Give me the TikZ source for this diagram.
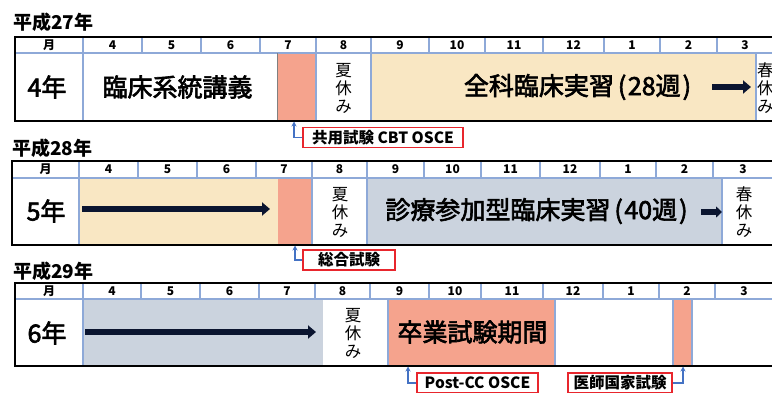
\documentclass[tikz,border=0pt]{standalone}
\usepackage{fontspec}
\setmainfont{Noto Sans CJK JP}
\newfontfamily\medfont[FakeBold=2.5]{Noto Sans CJK JP}
\usetikzlibrary{arrows.meta}
\definecolor{salmon}{HTML}{F5A38D}
\definecolor{beige}{HTML}{F9E7C3}
\definecolor{slate}{HTML}{CBD3DE}
\definecolor{gridblue}{HTML}{8EA9D8}
\definecolor{boxred}{HTML}{E8262D}
\definecolor{arrowblue}{HTML}{4472C4}
\definecolor{navy}{HTML}{0B1530}
\newcommand\lp{\hspace{4pt}(\hspace{1.5pt}}
\newcommand\rp{\hspace{2pt})\hspace{3pt}}
\tikzset{
  frame/.style={draw=black,line width=1.8pt},
  gridline/.style={draw=gridblue,line width=1.3pt},
  month/.style={font=\fontsize{12}{12}\selectfont\bfseries,inner sep=0pt},
  yeartitle/.style={font=\fontsize{19}{19}\selectfont\bfseries,inner sep=0pt,anchor=west},
  biglabel/.style={font=\fontsize{25}{25}\selectfont\medfont,inner sep=0pt},
  vlabel/.style={font=\fontsize{16.5}{18}\selectfont,inner sep=0pt,align=center},
  callout/.style={draw=boxred,line width=1.3pt,fill=white,font=\fontsize{15.5}{16}\selectfont\bfseries,inner sep=0pt,minimum height=20pt},
  leader/.style={draw=arrowblue,line width=1.3pt,-{Stealth[length=5pt,width=5pt]}},
  fatarrow/.style={draw=navy,line width=5.5pt,-{Triangle[length=8pt,width=13pt]}},
}
\begin{document}
\begin{tikzpicture}[x=1pt,y=-1pt]
\useasboundingbox (0,0) rectangle (772,392);
\clip (0,0) rectangle (772,392);

% ---------------- Panel 1 -----------------
\node[yeartitle] (t1) at (13,22) {平成27年};
\fill[beige] (371,53) rectangle (756,121);
\fill[salmon] (277,53) rectangle (316,121);
\draw[gridline] (15,53) -- (790,53);
\foreach \x in {83,142,201,260,316,371,429,485,543,604,660,717}
  \draw[gridline] (\x,37) -- (\x,53);
\foreach \x in {83,316,371,756}
  \draw[gridline] (\x,53) -- (\x,121);
\draw[gray,line width=1pt] (277,53) -- (277,121);
\draw[frame] (15,37) rectangle (790,121);
\foreach \m/\x [count=\i] in {月/49,4/112.5,5/171.5,6/230.5,7/288,8/343.5,9/400,10/457,11/514,12/573.5,1/632,2/688.5,3/745}
  \node[month] (p1m\i) at (\x,45.5) {\m};
\node[biglabel] (y1) at (47,87) {4年};
\node[biglabel] (l1) at (177.5,87) {臨床系統講義};
\node[vlabel] (s1) at (343.5,88) {夏\\休\\み};
\node[biglabel] (c1) at (577.5,87) {全科臨床実習\lp28週\rp};
\node[vlabel,anchor=west] (h1) at (757,88) {春\\休\\み};
\coordinate (a1s) at (712,87);
\coordinate (a1e) at (751,87);
\draw[fatarrow] (a1s) -- (a1e);
\node[callout,minimum width=160pt] (b1) at (383,137.5) {共用試験 CBT OSCE};
\coordinate (b1t) at (294,121.5);
\draw[leader] (b1.west) -| (b1t);

% ---------------- Panel 2 -----------------
\node[yeartitle] (t2) at (12,148) {平成28年};
\fill[beige] (79,178) rectangle (278,245);
\fill[salmon] (278,178) rectangle (312,245);
\fill[slate] (367,178) rectangle (722,245);
\draw[gridline] (12,178) -- (790,178);
\foreach \x in {79,138,197,256,312,367,424,481,540,600,656,713}
  \draw[gridline] (\x,161) -- (\x,178);
\foreach \x in {79,312,367,722}
  \draw[gridline] (\x,178) -- (\x,245);
\draw[frame] (12,161) rectangle (790,245);
\foreach \m/\x [count=\i] in {月/45.5,4/108.5,5/167.5,6/226.5,7/284,8/339.5,9/395.5,10/452.5,11/510.5,12/570,1/628,2/684.5,3/743}
  \node[month] (p2m\i) at (\x,169.5) {\m};
\node[biglabel] (y2) at (46,211) {5年};
\node[vlabel] (s2) at (340,212) {夏\\休\\み};
\node[biglabel] (c2) at (536.5,211) {診療参加型臨床実習\lp40週\rp};
\node[vlabel] (h2) at (744,212) {春\\休\\み};
\coordinate (a2s) at (82,209);
\coordinate (a2e) at (270,209);
\draw[fatarrow] (a2s) -- (a2e);
\coordinate (a3s) at (701,212);
\coordinate (a3e) at (722,212);
\draw[fatarrow,-{Triangle[length=6pt,width=11pt]}] (a3s) -- (a3e);
\node[callout,minimum width=92pt] (b2) at (349,260) {総合試験};
\coordinate (b2t) at (295,245.5);
\draw[leader] (b2.west) -| (b2t);

% ---------------- Panel 3 -----------------
\node[yeartitle] (t3) at (13,271) {平成29年};
\fill[slate] (83,299) rectangle (323,366);
\fill[salmon] (388,299) rectangle (555,366);
\fill[salmon] (673,299) rectangle (692,366);
\draw[gridline] (15,299) -- (790,299);
\foreach \x in {83,141,200,259,315,370,429,481,543,603,659,715}
  \draw[gridline] (\x,283) -- (\x,299);
\foreach \x in {83,388,555,673,692}
  \draw[gridline] (\x,299) -- (\x,366);
\draw[frame] (15,283) rectangle (790,366);
\foreach \m/\x [count=\i] in {月/49,4/112,5/170.5,6/229.5,7/287,8/342.5,9/399.5,10/455,11/512,12/573,1/631,2/687,3/744}
  \node[month] (p3m\i) at (\x,291) {\m};
\node[biglabel] (y3) at (47,333) {6年};
\node[vlabel] (s3) at (353,333) {夏\\休\\み};
\node[biglabel] (c3) at (472.5,332) {卒業試験期間};
\coordinate (a4s) at (85,332);
\coordinate (a4e) at (316,332);
\draw[fatarrow] (a4s) -- (a4e);
\node[callout,minimum width=121pt] (b3) at (477.5,383) {Post-CC OSCE};
\coordinate (b3t) at (408,366.5);
\draw[leader] (b3.west) -| (b3t);
\node[callout,minimum width=104pt] (b4) at (620,383) {医師国家試験};
\coordinate (b4t) at (683,366.5);
\draw[leader] (b4.east) -| (b4t);
\end{tikzpicture}
\end{document}
